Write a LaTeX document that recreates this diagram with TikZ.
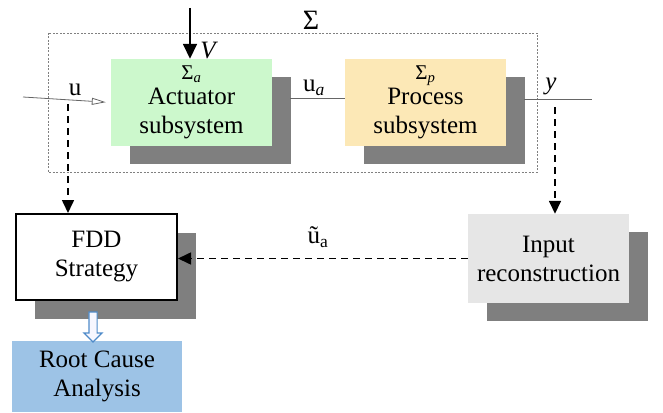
\documentclass[tikz,border=0pt]{standalone}
\usepackage{fontspec}
\setmainfont{Liberation Serif}
\usetikzlibrary{arrows.meta,shadows,shapes.arrows}
\definecolor{actgreen}{HTML}{CCF8CC}
\definecolor{procyellow}{HTML}{FCE8B6}
\definecolor{recgray}{HTML}{E6E6E6}
\definecolor{rcablue}{HTML}{9DC3E6}
\definecolor{shadowgray}{HTML}{7F7F7F}
\definecolor{arrowblue}{HTML}{4F8BC9}
\begin{document}
\begin{tikzpicture}[
    x=1pt, y=-1pt,
    font=\fontsize{25}{29}\selectfont,
    box/.style={rectangle, draw=none, align=center, inner sep=0pt, minimum width=161pt, minimum height=87pt},
    block/.style={box, general shadow={fill=shadowgray, shadow xshift=19pt, shadow yshift=-18pt}},
    sigma/.style={font=\fontsize{28}{28}\selectfont},
    dasharrow/.style={-{Triangle[length=13pt,width=12pt]}, line width=1.6pt, dash pattern=on 7pt off 5pt},
    signal/.style={draw=black!60, line width=0.8pt}
]
    \useasboundingbox (0,0) rectangle (663,412);

    % system boundary
    \draw[gray, line width=0.8pt, dash pattern=on 2pt off 1.5pt] (48,33) rectangle (537,172);
    \node[sigma] (sys) at (311,20) {Σ};

    % blocks
    \node[block, fill=actgreen] (act) at (191.5,102.5)
        {{\fontsize{21}{21}\selectfont Σ\textsubscript{\textit{a}}}\\[-4pt] Actuator\\ subsystem\rule[-3pt]{0pt}{1pt}};
    \node[block, fill=procyellow] (proc) at (425.5,102.5)
        {{\fontsize{21}{21}\selectfont Σ\textsubscript{\textit{p}}}\\[-4pt] Process\\ subsystem\rule[-3pt]{0pt}{1pt}};
    \node[block, fill=recgray, minimum height=89pt] (inrec) at (548.5,258.5) {Input\\ reconstruction};
    \node[box, fill=white, draw=black, line width=2pt, minimum height=86pt,
        general shadow={fill=shadowgray, shadow xshift=19pt, shadow yshift=-19pt}] (fdd) at (96.5,257) {FDD\\ Strategy};
    \node[box, fill=rcablue, minimum width=170pt, minimum height=71pt] (rca) at (97,376.5) {Root Cause\\ Analysis};
    \node[single arrow, draw=arrowblue, fill=blue!3, line width=1.2pt, rotate=-90, inner sep=3.5pt, minimum height=30pt,
        minimum width=17pt, single arrow head extend=5pt, single arrow head indent=0pt] (rcarrow) at (93,325) {};

    % inputs and outputs
    \coordinate (uin) at (23,97);
    \coordinate (ubranch) at (68,104);
    \coordinate (vin) at (190,8);
    \coordinate (ua) at (290,98);
    \coordinate (yout) at (524,99);
    \coordinate (yend) at (592,99);
    \coordinate (ybranch) at (555,107);

    \draw[signal, -{Triangle[open, length=14pt, width=7pt]}, shorten >=5pt] (uin) -- (act.west);
    \node (ulabel) at (75,90) {u};
    \draw[-{Triangle[length=15pt,width=14pt]}, line width=1.6pt] (vin) -- (vin |- act.north);
    \node[font=\fontsize{25}{29}\selectfont\itshape] (vlabel) at (208,51) {V};
    \draw[signal] (ua) -- (ua -| proc.west);
    \node (ualabel) at (314,88) {u\textsubscript{\textit{a}}};
    \draw[signal] (yout) -- (yend);
    \node[font=\fontsize{25}{29}\selectfont\itshape] (ylabel) at (551,86) {y};

    % dashed signal paths
    \draw[dasharrow] (ubranch) -- (ubranch |- fdd.north);
    \draw[dasharrow] (ybranch) -- (ybranch |- inrec.north);
    \draw[dasharrow] (inrec.west) -- (inrec.west -| fdd.east);
    \node (uhat) at (318,237) {ũ\textsubscript{a}};
\end{tikzpicture}
\end{document}
